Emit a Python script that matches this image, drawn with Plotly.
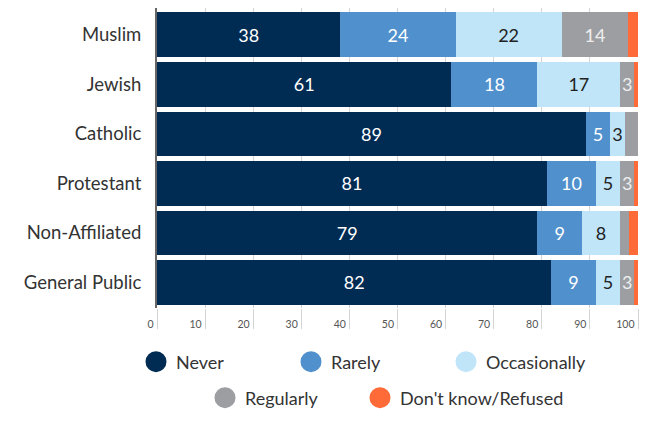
import plotly.graph_objects as go

categories = ["Muslim", "Jewish", "Catholic", "Protestant", "Non-Affiliated", "General Public"]
series_names = ["Never", "Rarely", "Occasionally", "Regularly", "Don't know/Refused"]
never = [38.1, 61.2, 89.2, 81.1, 79.1, 82.0]
rarely = [24.0, 17.9, 5.0, 10.1, 9.2, 9.2]
occasionally = [22.0, 17.2, 3.1, 5.1, 8.0, 5.1]
regularly = [13.9, 2.9, 2.7, 2.9, 1.8, 2.9]
dont_know = [2.0, 0.8, 0.0, 0.8, 1.9, 0.8]
x_ticks = [0, 10, 20, 30, 40, 50, 60, 70, 80, 90, 100]

series_values = [never, rarely, occasionally, regularly, dont_know]
colors = ["#002c54", "#4f90cd", "#c0e5f9", "#9d9ea2", "#ff6a39"]
text_colors = ["#ffffff", "#ffffff", "#222222", "#eeeeee", "#ffffff"]
legend_ids = ["legend", "legend", "legend", "legend2", "legend3"]
FONT = "Lato"

fig = go.Figure()
for i, (name, vals) in enumerate(zip(series_names, series_values)):
    labels = [f"{round(v)}" if v >= 2.8 and i < 4 else "" for v in vals]
    fig.add_trace(go.Bar(
        y=categories, x=vals, orientation="h", name=name,
        marker=dict(color=colors[i], line=dict(width=0)),
        text=labels, textposition="inside", insidetextanchor="middle",
        textfont=dict(family=FONT, size=18, color=text_colors[i]),
        showlegend=False, hoverinfo="skip", cliponaxis=False,
    ))

for i, name in enumerate(series_names):
    fig.add_trace(go.Scatter(
        x=[None], y=[None], mode="markers", name=name,
        marker=dict(symbol="circle", size=24, color=colors[i],
                    line=dict(width=8, color=colors[i])),
        legend=legend_ids[i],
    ))

legend_common = dict(orientation="h", xref="container", yref="container",
                     xanchor="left", yanchor="middle",
                     traceorder="normal",
                     font=dict(family=FONT, size=18, color="#333333"),
                     bgcolor="rgba(0,0,0,0)")

fig.update_layout(
    width=653, height=424,
    margin=dict(l=149, r=23, t=0, b=124, autoexpand=False),
    barmode="stack", bargap=0.1,
    paper_bgcolor="white", plot_bgcolor="white",
    font=dict(family=FONT, color="#333333"),
    uniformtext=dict(minsize=18, mode="show"),
    legend=dict(legend_common, entrywidth=110, x=128 / 653, y=1 - 354 / 424),
    legend2=dict(legend_common, x=197 / 653, y=1 - 390 / 424),
    legend3=dict(legend_common, x=352 / 653, y=1 - 390 / 424),
)
fig.update_xaxes(
    range=[0, 100], tickvals=x_ticks, ticktext=[str(t) for t in x_ticks],
    showgrid=True, gridcolor="#d4d4d4", gridwidth=1, zeroline=False, showline=False,
    ticks="outside", ticklen=20, tickcolor="#d4d4d4", tickwidth=1,
    ticklabelposition="outside left", ticklabelstandoff=6, ticklabelshift=-3,
    tickfont=dict(family=FONT, size=10.5, color="#555555"),
)
fig.update_yaxes(
    categoryorder="array", categoryarray=categories, range=[5.515, -0.539],
    showgrid=False, zeroline=False, showline=True, linecolor="#666666", linewidth=2,
    ticks="", ticklabelstandoff=10,
    tickfont=dict(family=FONT, size=18.5, color="#333333"),
)
fig.write_html("out.html")
